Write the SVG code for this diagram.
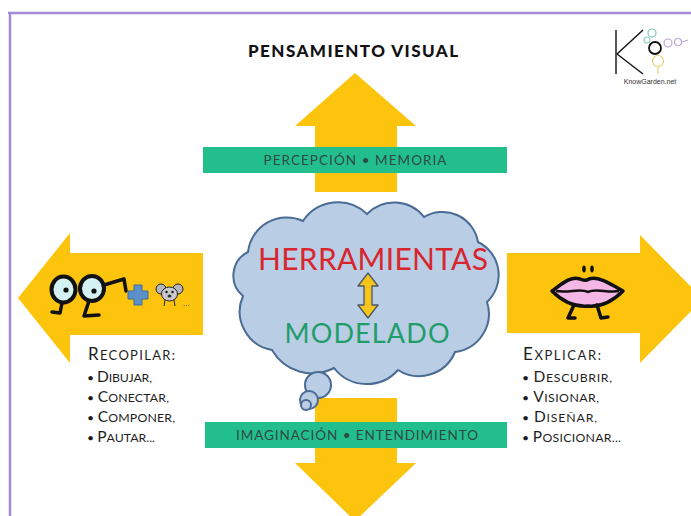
<svg xmlns="http://www.w3.org/2000/svg" width="691" height="516" viewBox="0 0 691 516">
  <style>
    .yellow { fill: #fcc40c; }
    .band { fill: #22bf8d; }
    .bandtxt { font-family: Lato, "Noto Sans", sans-serif; font-size: 13.5px; fill: #2f4a43; text-anchor: middle; }
    .list { font-family: Lato, "Noto Sans", sans-serif; fill: #1e1e1e; }
    .hbig { font-size: 17px; }
    .hsm { font-size: 13px; }
    .big { font-size: 15.5px; }
    .sm { font-size: 12.3px; }
    .ink { stroke: #111; stroke-width: 3.5; stroke-linecap: round; stroke-linejoin: round; fill: none; }
  </style>

  <rect width="691" height="516" fill="#ffffff"/>

  <!-- frame -->
  <g id="frame" stroke="#a48ad8" stroke-width="2.5" fill="none">
    <line x1="8" y1="13" x2="691" y2="13"/>
    <line x1="10" y1="12" x2="10" y2="516"/>
  </g>

  <!-- title -->
  <g id="title">
    <text x="353" y="57" font-family="Lato, 'Noto Sans', sans-serif" font-size="17" font-weight="900" fill="#111" text-anchor="middle" textLength="210">PENSAMIENTO VISUAL</text>
  </g>

  <!-- logo -->
  <g id="logo">
    <g stroke="#111" stroke-width="1.4" fill="none">
      <line x1="616" y1="30" x2="616" y2="74"/>
      <line x1="617" y1="54" x2="643" y2="30"/>
      <line x1="617" y1="54" x2="643" y2="74"/>
      <circle cx="655" cy="48" r="6" stroke-width="1.8"/>
    </g>
    <g fill="none" stroke-width="1.2">
      <circle cx="652" cy="33" r="4" stroke="#7cc7b5"/>
      <circle cx="647" cy="40" r="3" stroke="#8fd0c0"/>
      <circle cx="668" cy="43" r="4" stroke="#b7a5d8"/>
      <circle cx="678" cy="42" r="3.5" stroke="#b7a5d8"/>
      <line x1="682" y1="42" x2="688" y2="40" stroke="#b7a5d8"/>
      <circle cx="658" cy="61" r="5.5" stroke="#e2d27a"/>
      <line x1="658" y1="66" x2="658" y2="74" stroke="#e2d27a"/>
    </g>
    <text x="650" y="84" font-family="'Liberation Sans', sans-serif" font-size="7" fill="#333" text-anchor="middle">KnowGarden.net</text>
  </g>

  <!-- arrows -->
  <g id="arrow-up">
    <polygon class="yellow" points="355,73 416,126 397,126 397,192 315,192 315,126 295,126"/>
  </g>
  <g id="arrow-down">
    <polygon class="yellow" points="315,398 397,398 397,463 416,463 355,521 295,463 315,463"/>
  </g>
  <g id="arrow-left">
    <polygon class="yellow" points="18,298 70,233 70,253 203,253 203,335 70,335 70,363"/>
  </g>
  <g id="arrow-right">
    <polygon class="yellow" points="507,253 640,253 640,235 703,299 640,363 640,333 507,333"/>
  </g>

  <!-- labelled bands -->
  <g id="band-top">
    <rect class="band" x="203" y="147" width="304" height="26"/>
    <text class="bandtxt" x="355" y="165" textLength="183">PERCEPCIÓN • MEMORIA</text>
  </g>
  <g id="band-bottom">
    <rect class="band" x="205" y="422" width="302" height="26"/>
    <text class="bandtxt" x="357" y="440" textLength="242">IMAGINACIÓN • ENTENDIMIENTO</text>
  </g>

  <!-- thought cloud -->
  <g id="cloud" fill="#b9cde5" stroke="#4a6b94" stroke-width="2">
    <path d="M248,252 A39,39 0 0 1 303,221 A42,42 0 0 1 367,214 A38,38 0 0 1 424,217 A36,36 0 0 1 478,242 A36.8,36.8 0 0 1 487,302 A38.5,38.5 0 0 1 455,352 A39,39 0 0 1 398,370 A41.6,41.6 0 0 1 334,368 A46.6,46.6 0 0 1 272,350 A39,39 0 0 1 243,296 A26.4,26.4 0 0 1 248,252 Z"/>
    <circle cx="318" cy="385" r="13"/>
    <circle cx="309" cy="400" r="9"/>
    <circle cx="306" cy="405" r="5"/>
  </g>

  <g id="cloud-text">
    <text x="373" y="270" font-family="Lato, 'Noto Sans', sans-serif" font-size="30" fill="#d8262e" text-anchor="middle" textLength="230">HERRAMIENTAS</text>
    <polygon points="368,273 378,286 372,286 372,305 378,305 368,318 358,305 364,305 364,286 358,286" fill="#f6c51a" stroke="#4a5568" stroke-width="1.3" stroke-linejoin="round"/>
    <text x="367" y="343" font-family="Lato, 'Noto Sans', sans-serif" font-size="27" fill="#1f9e6a" text-anchor="middle" textLength="165">MODELADO</text>
  </g>

  <!-- walking glasses, plus and koala -->
  <g id="icon-glasses">
    <ellipse cx="63.5" cy="289.5" rx="12" ry="13" fill="#d4f1f4" stroke="#111" stroke-width="4"/>
    <ellipse cx="92" cy="288.5" rx="12" ry="12.5" fill="#d4f1f4" stroke="#111" stroke-width="4"/>
    <circle cx="66" cy="290" r="2.6" fill="#111"/>
    <circle cx="94" cy="291" r="2.6" fill="#111"/>
    <path class="ink" d="M104,285 L124,279 L126,291"/>
    <path class="ink" d="M62,303 L60,313 L52,312"/>
    <path class="ink" d="M89,301 L84,316 L99,315"/>
    <path d="M134,285 h8 v6 h6 v8 h-6 v6 h-8 v-6 h-6 v-8 h6 z" fill="#5b90c8" stroke="#3f6c9e" stroke-width="1"/>
    <g stroke="#222" stroke-width="1">
      <circle cx="161" cy="289" r="5" fill="#b5b5bd"/>
      <circle cx="178" cy="289" r="5" fill="#b5b5bd"/>
      <ellipse cx="169.5" cy="294" rx="8" ry="7" fill="#c9c9d0"/>
      <line x1="165" y1="300" x2="164" y2="306"/>
      <line x1="174" y1="300" x2="175" y2="306"/>
    </g>
    <circle cx="166.5" cy="292" r="1.2" fill="#111"/>
    <circle cx="172.5" cy="292" r="1.2" fill="#111"/>
    <ellipse cx="169.5" cy="296" rx="2" ry="1.5" fill="#333"/>
    <text x="183" y="306" font-family="'Liberation Sans', sans-serif" font-size="8" fill="#333">...</text>
  </g>

  <!-- walking lips -->
  <g id="icon-lips">
    <ellipse cx="584" cy="269" rx="1.8" ry="3.4" fill="#111"/>
    <ellipse cx="592" cy="269" rx="1.8" ry="3.4" fill="#111"/>
    <path d="M552,291 C563,283 571,276 580,279 C584,281 586,281 589,279 C598,276 609,283 623,291 C611,303 599,307 588,306 C576,307 564,303 552,291 Z" fill="#f3b6e5" stroke="#111" stroke-width="3.5" stroke-linejoin="round"/>
    <path d="M556,291 C570,293 580,288 588,292 C596,288 607,293 619,291" fill="none" stroke="#111" stroke-width="2.5"/>
    <path class="ink" d="M574,305 L568,318 L575,318"/>
    <path class="ink" d="M597,305 L601,318 L608,317"/>
  </g>

  <!-- side lists -->
  <g id="list-left" class="list">
    <text x="88" y="360" textLength="87"><tspan class="hbig">R</tspan><tspan class="hsm">ECOPILAR:</tspan></text>
    <text x="87" y="382" textLength="65"><tspan class="sm">• </tspan><tspan class="big">D</tspan><tspan class="sm">IBUJAR,</tspan></text>
    <text x="87" y="402" textLength="82"><tspan class="sm">• </tspan><tspan class="big">C</tspan><tspan class="sm">ONECTAR,</tspan></text>
    <text x="87" y="422" textLength="88"><tspan class="sm">• </tspan><tspan class="big">C</tspan><tspan class="sm">OMPONER,</tspan></text>
    <text x="87" y="442" textLength="68"><tspan class="sm">• </tspan><tspan class="big">P</tspan><tspan class="sm">AUTAR...</tspan></text>
  </g>
  <g id="list-right" class="list">
    <text x="523" y="360" textLength="78"><tspan class="hbig">E</tspan><tspan class="hsm">XPLICAR:</tspan></text>
    <text x="522" y="382" textLength="90"><tspan class="sm">• </tspan><tspan class="big">D</tspan><tspan class="sm">ESCUBRIR,</tspan></text>
    <text x="522" y="402" textLength="77"><tspan class="sm">• </tspan><tspan class="big">V</tspan><tspan class="sm">ISIONAR,</tspan></text>
    <text x="522" y="422" textLength="75"><tspan class="sm">• </tspan><tspan class="big">D</tspan><tspan class="sm">ISEÑAR,</tspan></text>
    <text x="522" y="442" textLength="99"><tspan class="sm">• </tspan><tspan class="big">P</tspan><tspan class="sm">OSICIONAR...</tspan></text>
  </g>
</svg>
